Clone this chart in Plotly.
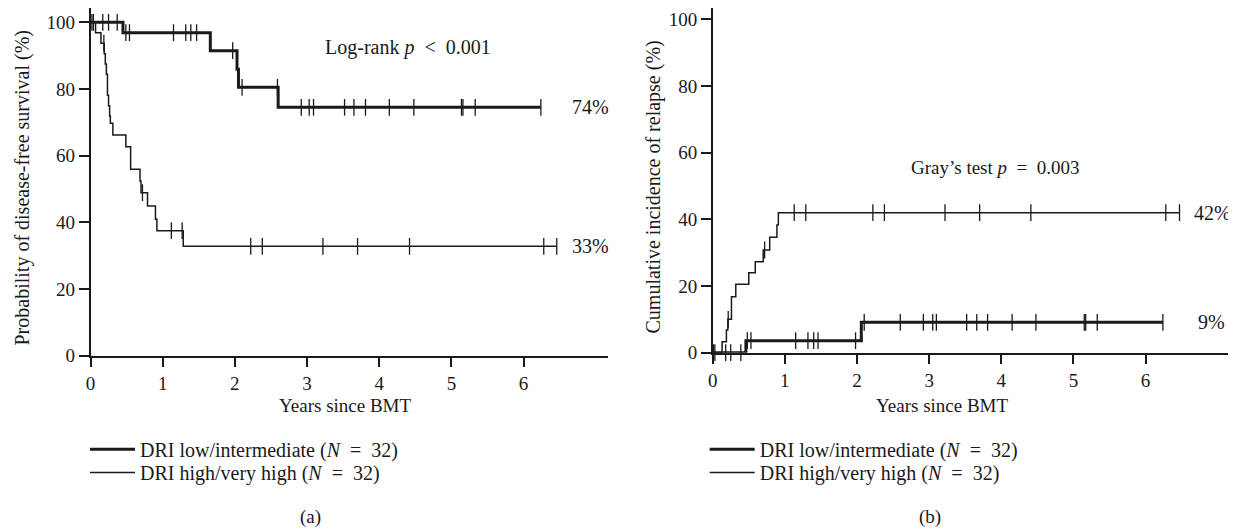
import plotly.graph_objects as go

W, H = 1236, 529
OFF = 8  # page body margin of the generated html page
FONT = "Liberation Serif"
INK = "#1a1a1a"

# ---------------- data ----------------
# (a) disease-free survival, step curves (time in years, survival %)
dfs_low_t = [0, 0.45, 1.66, 2.03, 2.05, 2.60, 6.24]
dfs_low_s = [100, 96.9, 91.5, 85.9, 80.5, 74.5, 74.5]
dfs_low_cens = [0.02, 0.04, 0.17, 0.25, 0.37, 0.49, 0.54, 1.15, 1.32, 1.39, 1.47,
                1.97, 2.10, 2.59, 2.92, 3.03, 3.09, 3.52, 3.65, 3.81, 4.14, 4.48,
                5.14, 5.16, 5.33, 6.24]

dfs_high_t = [0, 0.07, 0.145, 0.19, 0.205, 0.22, 0.235, 0.25, 0.265, 0.275, 0.31,
              0.49, 0.556, 0.686, 0.70, 0.79, 0.90, 0.92, 1.285, 6.46]
dfs_high_s = [100, 96.9, 93.75, 90.6, 87.5, 84.4, 78.1, 75.0, 71.9, 69.7, 66.2,
              62.7, 55.9, 52.4, 48.9, 44.9, 40.9, 37.5, 32.8, 32.8]
dfs_high_cens = [0.185, 0.72, 1.12, 1.27, 2.22, 2.38, 3.22, 3.70, 4.42, 6.28, 6.46]

# (b) cumulative incidence of relapse (time in years, incidence %)
cir_low_t = [0, 0.46, 2.06, 6.24]
cir_low_v = [0, 3.6, 9.1, 9.1]
cir_low_cens = [0.01, 0.18, 0.25, 0.39, 0.48, 0.53, 1.15, 1.32, 1.40, 1.46, 1.98,
                2.10, 2.60, 2.92, 3.05, 3.10, 3.52, 3.66, 3.81, 4.15, 4.48, 5.15,
                5.17, 5.33, 6.24]

cir_high_t = [0, 0.13, 0.19, 0.21, 0.26, 0.32, 0.50, 0.59, 0.70, 0.79, 0.89, 0.91, 6.47]
cir_high_v = [0, 3.3, 6.8, 10.0, 16.8, 20.5, 24.0, 27.3, 30.8, 34.6, 38.3, 42.0, 42.0]
cir_high_cens = [0.03, 0.215, 0.72, 1.13, 1.29, 2.22, 2.38, 3.22, 3.70, 4.41, 6.28, 6.47]

x_ticks = [0, 1, 2, 3, 4, 5, 6]
y_ticks = [0, 20, 40, 60, 80, 100]

EN = "\u2002"
name_low = f"DRI low/intermediate (<i>N</i>{EN}={EN}32)"
name_high = f"DRI high/very high (<i>N</i>{EN}={EN}32)"


def step_at(ts, vs, t):
    v = vs[0]
    for ti, vi in zip(ts, vs):
        if ti <= t:
            v = vi
    return v


def px(xp):
    return (xp - OFF) / W


def py(yp):
    return 1 - (yp - OFF) / H


fig = go.Figure()


def add_curve(ts, vs, cens, width, name, xa, ya, leg):
    fig.add_trace(go.Scatter(
        x=ts, y=vs, mode="lines", line=dict(shape="hv", width=width, color=INK),
        name=name, xaxis=xa, yaxis=ya, legend=leg, showlegend=True,
        hoverinfo="skip"))
    fig.add_trace(go.Scatter(
        x=cens, y=[step_at(ts, vs, c) for c in cens], mode="markers",
        marker=dict(symbol="line-ns", size=12, line=dict(width=1.3, color=INK)),
        xaxis=xa, yaxis=ya, showlegend=False, hoverinfo="skip", cliponaxis=False))


add_curve(dfs_low_t, dfs_low_s, dfs_low_cens, 3, name_low, "x", "y", "legend")
add_curve(dfs_high_t, dfs_high_s, dfs_high_cens, 1.5, name_high, "x", "y", "legend2")
add_curve(cir_low_t, cir_low_v, cir_low_cens, 3, name_low, "x2", "y2", "legend3")
add_curve(cir_high_t, cir_high_v, cir_high_cens, 1.5, name_high, "x2", "y2", "legend4")

axis_common = dict(showline=True, linecolor=INK, linewidth=1.5, ticks="outside",
                   ticklen=10, tickwidth=1.5, tickcolor=INK, showgrid=False,
                   zeroline=False, automargin=False,
                   tickfont=dict(family=FONT, size=19, color=INK))

legend_common = dict(xanchor="left", yanchor="top", itemwidth=45,
                     font=dict(family=FONT, size=20, color=INK),
                     bgcolor="rgba(0,0,0,0)", tracegroupgap=0)

ROW1, ROW2, LEG_DY = 450.7, 474.0, 21

fig.update_layout(
    width=W, height=H, plot_bgcolor="white", paper_bgcolor="white",
    margin=dict(l=0, r=0, t=0, b=0, pad=0),
    font=dict(family=FONT, size=19, color=INK),
    xaxis=dict(domain=[px(90.5), px(608)], range=[0, 7.17], tickvals=x_ticks,
               anchor="y", **axis_common),
    yaxis=dict(domain=[py(355.7), py(8.3)], range=[0, 104.2], tickvals=y_ticks,
               anchor="x", **axis_common),
    xaxis2=dict(domain=[px(712.7), px(1230)], range=[0, 7.17], tickvals=x_ticks,
                anchor="y2", **axis_common),
    yaxis2=dict(domain=[py(352.7), 1.0], range=[0, (352.7 - OFF) / 3.335],
                tickvals=y_ticks, anchor="x2", **axis_common),
    legend=dict(x=px(85), y=py(ROW1 - LEG_DY), **legend_common),
    legend2=dict(x=px(85), y=py(ROW2 - LEG_DY), **legend_common),
    legend3=dict(x=px(704.7), y=py(ROW1 - LEG_DY), **legend_common),
    legend4=dict(x=px(704.7), y=py(ROW2 - LEG_DY), **legend_common),
    showlegend=True,
)

f20 = dict(family=FONT, size=20, color=INK)
f19 = dict(family=FONT, size=19, color=INK)
annotations = [
    dict(x=4.40, y=92.3, xref="x", yref="y",
         text=f"Log-rank <i>p</i>{EN}&lt;{EN}0.001", showarrow=False, font=f20),
    dict(x=3.92, y=55.4, xref="x2", yref="y2",
         text=f"Gray\u2019s test <i>p</i>{EN}={EN}0.003", showarrow=False, font=f19),
    dict(x=6.64, y=dfs_low_s[-1], xref="x", yref="y", text="74%", xanchor="left",
         showarrow=False, font=f20),
    dict(x=6.64, y=dfs_high_s[-1], xref="x", yref="y", text="33%", xanchor="left",
         showarrow=False, font=f20),
    dict(x=6.65, y=cir_high_v[-1], xref="x2", yref="y2", text="42%", xanchor="left",
         showarrow=False, font=f20),
    dict(x=6.70, y=cir_low_v[-1], xref="x2", yref="y2", text="9%", xanchor="left",
         showarrow=False, font=f20),
    dict(x=px(9), y=py(188), xref="paper", yref="paper", xanchor="left",
         yanchor="middle", text="Probability of disease-free survival (%)",
         textangle=-90, showarrow=False, font=f20),
    dict(x=px(639), y=py(187), xref="paper", yref="paper", xanchor="left",
         yanchor="middle", text="Cumulative incidence of relapse (%)",
         textangle=-90, showarrow=False, font=f20),
    dict(x=px(345), y=py(405), xref="paper", yref="paper", text="Years since BMT",
         xanchor="center", yanchor="middle", showarrow=False, font=f19),
    dict(x=px(942), y=py(405), xref="paper", yref="paper", text="Years since BMT",
         xanchor="center", yanchor="middle", showarrow=False, font=f19),
    dict(x=px(310), y=py(530), xref="paper", yref="paper", text="(a)",
         xanchor="center", yanchor="bottom", showarrow=False, font=f19),
    dict(x=px(930), y=py(530), xref="paper", yref="paper", text="(b)",
         xanchor="center", yanchor="bottom", showarrow=False, font=f19),
]
fig.update_layout(annotations=annotations)

fig.write_html("out.html")
